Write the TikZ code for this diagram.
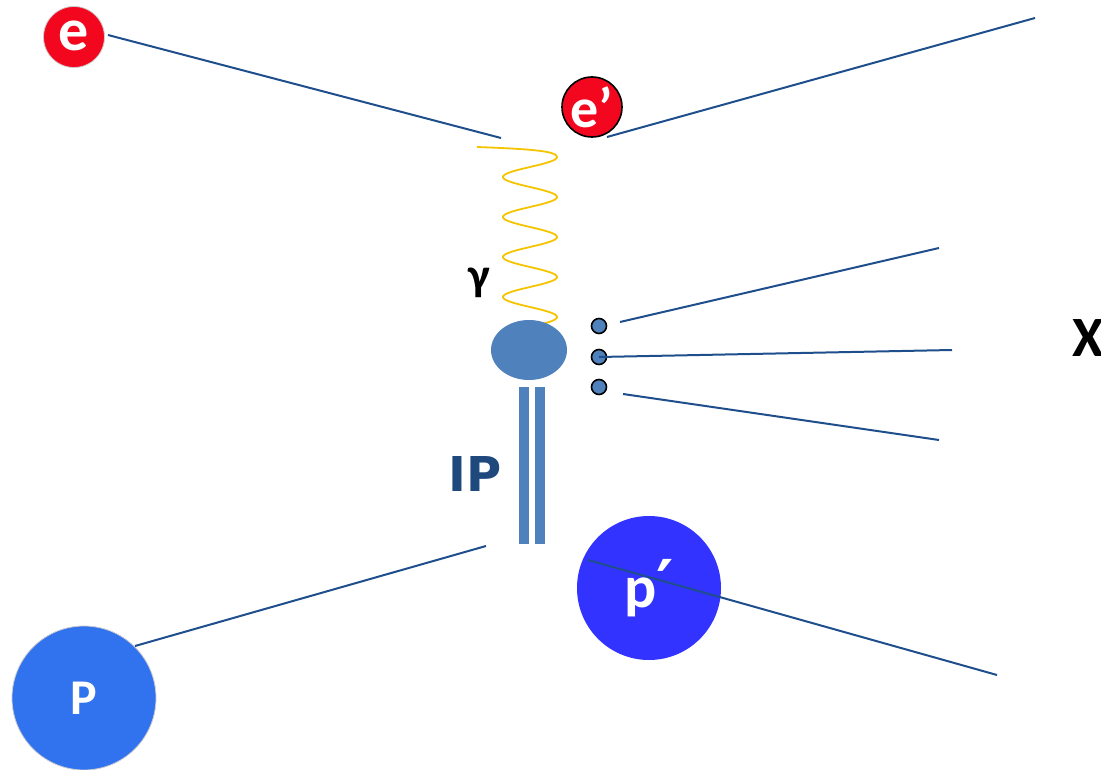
\documentclass[tikz,border=0pt]{standalone}
\usepackage{fontspec}
\usetikzlibrary{shapes.geometric}
\setmainfont{Carlito}
\newfontfamily\heavyfont{DejaVu Sans}
\newfontfamily\primefont{DejaVu Sans}
\definecolor{eRed}{HTML}{F2071F}
\definecolor{lineBlue}{HTML}{1F4E8C}
\definecolor{photonYellow}{HTML}{F5C400}
\definecolor{blobBlue}{HTML}{4F81BD}
\definecolor{ipBlue}{HTML}{1F497D}
\definecolor{pBlue}{HTML}{3173EE}
\definecolor{ppBlue}{HTML}{3333FF}
\tikzset{
  track/.style={draw=lineBlue, line width=2pt},
  particle/.style={circle, inner sep=0pt, text=white, font=\bfseries},
  hadron/.style={circle, draw=black, fill=blobBlue, line width=1.6pt, minimum size=15pt, inner sep=0pt},
  lbl/.style={inner sep=0pt, font=\bfseries}
}
\begin{document}
\begin{tikzpicture}[x=1pt, y=-1pt]
\useasboundingbox (0,0) rectangle (1101,770);

% incoming and scattered electron
\node[particle, fill=eRed, draw=gray!40, line width=0.8pt, minimum size=61pt,
      font=\bfseries\fontsize{60}{60}\selectfont] (e) at (74,37) {\raisebox{2pt}{e}};
\node[particle, fill=eRed, draw=black, line width=1.6pt, minimum size=60pt,
      font=\bfseries\fontsize{56}{56}\selectfont] (ep) at (592,107) {e’};
\coordinate (eIn) at (108,35);
\coordinate (eVtx) at (501,138);
\coordinate (epVtx) at (607,137);
\coordinate (epOut) at (1035,18);
\draw[track] (eIn) -- (eVtx);
\draw[track] (epVtx) -- (epOut);

% virtual photon
\draw[photonYellow, line width=1.8pt]
  (477,147) .. controls (530,149) and (557,151) .. (557,157)
  -- plot[variable=\t, domain=157:326, samples=300] ({530+27*cos(9*(\t-157))}, {\t});
\node[lbl, font=\bfseries\fontsize{46}{46}\selectfont] (gamma) at (479,283) {γ};

% pomeron exchange
\fill[blobBlue] (519,387) rectangle (529,544);
\fill[blobBlue] (535,387) rectangle (545,544);
\node[lbl, text=ipBlue, font=\heavyfont\bfseries\fontsize{48}{48}\selectfont] (ip) at (475,474) {IP};

% interaction blob and hadronic final state
\node[ellipse, fill=blobBlue, minimum width=76pt, minimum height=60pt, inner sep=0pt] (blob) at (529,350) {};
\node[hadron] (h1) at (599,326) {};
\node[hadron] (h2) at (599,357) {};
\node[hadron] (h3) at (599,387) {};
\coordinate (x1a) at (620,322);
\coordinate (x1b) at (939,248);
\coordinate (x3a) at (623,394);
\coordinate (x3b) at (939,440);
\coordinate (x2b) at (952,350);
\draw[track] (x1a) -- (x1b);
\draw[track] (h2.center) -- (x2b);
\draw[track] (x3a) -- (x3b);
\node[lbl, anchor=base west, font=\bfseries\fontsize{57}{57}\selectfont] (X) at (1072,356) {X};

% incoming and scattered proton
\node[particle, fill=pBlue, draw=gray!40, line width=0.8pt, minimum size=144pt,
      font=\bfseries\fontsize{50}{50}\selectfont] (p) at (84,698) {P};
\coordinate (pIn) at (135,646);
\coordinate (pVtx) at (486,546);
\draw[track] (pIn) -- (pVtx);
\node[particle, fill=ppBlue, minimum size=144pt,
      font=\bfseries\fontsize{60}{60}\selectfont] (pp) at (649,588) {p{\primefont\bfseries\fontsize{66}{66}\selectfont ′}};
\coordinate (ppVtx) at (588,560);
\coordinate (ppOut) at (997,675);
\draw[track] (ppVtx) -- (ppOut);
\end{tikzpicture}
\end{document}
